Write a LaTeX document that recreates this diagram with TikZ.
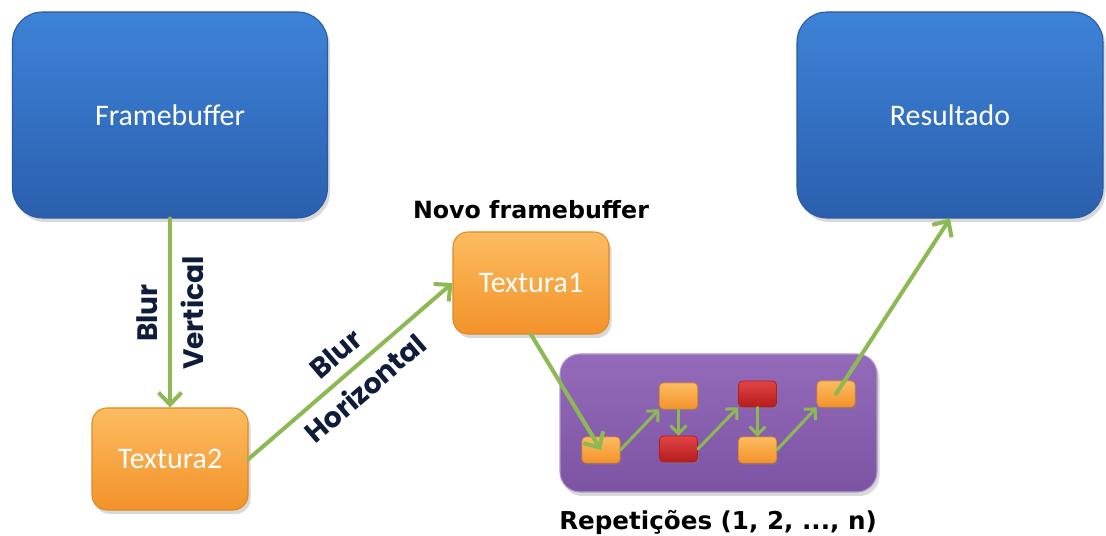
\documentclass[tikz,border=0pt]{standalone}
\usepackage{fontspec}
\setmainfont{Carlito}
\newfontfamily\blurfont{Poppins}
\newfontfamily\captfont{DejaVu Sans}
\usetikzlibrary{arrows.meta, positioning, shadows}
\definecolor{kbluetop}{HTML}{3D83D8}
\definecolor{kbluebot}{HTML}{2B5FAE}
\definecolor{kblueedge}{HTML}{2A5AA3}
\definecolor{korangetop}{HTML}{FCBC60}
\definecolor{korangebot}{HTML}{F3922A}
\definecolor{korangeedge}{HTML}{E08A22}
\definecolor{kredtop}{HTML}{E24444}
\definecolor{kredbot}{HTML}{B51D1D}
\definecolor{kpurpletop}{HTML}{946BBB}
\definecolor{kpurplebot}{HTML}{7D54A4}
\definecolor{kgreen}{HTML}{8DB955}
\definecolor{knavy}{HTML}{101C3C}

\begin{document}
\begin{tikzpicture}[x=1cm, y=1cm,
  bigbox/.style={rounded corners=0.6cm, minimum width=6.2cm, minimum height=4.12cm,
    top color=kbluetop, bottom color=kbluebot, draw=kblueedge, line width=0.6pt,
    text=white, font=\fontsize{17}{20}\selectfont,
    drop shadow={opacity=0.3, shadow xshift=0.05, shadow yshift=-0.08}},
  texbox/.style={rounded corners=0.3cm, minimum width=3.12cm, minimum height=2.04cm,
    top color=korangetop, bottom color=korangebot, draw=korangeedge, line width=0.6pt,
    text=white, font=\fontsize{17}{20}\selectfont,
    drop shadow={opacity=0.3, shadow xshift=0.05, shadow yshift=-0.08}},
  repbox/.style={rounded corners=0.4cm, minimum width=6.34cm, minimum height=2.76cm,
    top color=kpurpletop, bottom color=kpurplebot, draw=kpurpletop!70!white, line width=0.6pt,
    drop shadow={opacity=0.3, shadow xshift=0.05, shadow yshift=-0.08}},
  minibox/.style={rounded corners=0.08cm, minimum width=0.76cm, minimum height=0.52cm,
    top color=korangetop, bottom color=korangebot, draw=korangeedge, line width=0.4pt,
    drop shadow={opacity=0.35, shadow xshift=0.03, shadow yshift=-0.04}},
  minired/.style={minibox, top color=kredtop, bottom color=kredbot, draw=kredbot},
  flow/.style={draw=kgreen, line width=2.3pt, line cap=round,
    -{Straight Barb[length=0.24cm, width=0.46cm, line width=2.3pt]}},
  miniflow/.style={draw=kgreen, line width=1.7pt, line cap=round,
    -{Straight Barb[length=0.16cm, width=0.32cm, line width=1.7pt]}},
  blurlabel/.style={font=\blurfont\bfseries\fontsize{16}{18}\selectfont, text=knavy, align=center},
  caption/.style={font=\captfont\bfseries\fontsize{13.5}{16}\selectfont, text=black}
]

  \useasboundingbox (0,0) rectangle (22.12,10.72);

  %% Big framebuffers
  \node[bigbox, minimum width=6.3cm] (fb) at (3.40,8.42) {Framebuffer};
  \node[bigbox, minimum width=6.12cm] (res) at (19.00,8.42) {Resultado};

  %% Textures
  \node[texbox] (tex1) at (10.62,5.06) {Textura1};
  \node[texbox] (tex2) at (3.40,1.54) {Textura2};
  \node[caption, above=0.12cm of tex1] (novo) {Novo framebuffer};

  %% Repetitions
  \node[repbox] (rep) at (14.37,2.26) {};
  \node[caption, font=\captfont\bfseries\fontsize{14}{16}\selectfont] (repcap) at (14.36,0.28)
    {Repetições (1, 2, ..., n)};
  \node[minibox] (ra) at (12.02,1.72) {};
  \node[minibox] (rb) at (13.57,2.80) {};
  \node[minired] (rc) at (13.57,1.74) {};
  \node[minired] (rd) at (15.15,2.84) {};
  \node[minibox] (re) at (15.15,1.72) {};
  \node[minibox] (rf) at (16.72,2.84) {};

  %% Connectors
  \draw[flow] (fb.south) -- (tex2.north)
    node[blurlabel, midway, rotate=90] {Blur\\[8pt]Vertical};
  \draw[flow] (tex2.east) -- (tex1.west)
    node[blurlabel, midway, sloped] {Blur\\[8pt]Horizontal};
  \draw[flow] (tex1.south) -- (ra.center);
  \draw[miniflow] (ra.east) -- (rb.south west);
  \draw[miniflow] (rb.south) -- (rc.north);
  \draw[miniflow] (rc.east) -- (rd.south west);
  \draw[miniflow] (rd.south) -- (re.north);
  \draw[miniflow] (re.east) -- (rf.south west);
  \draw[flow] (rf.center) -- (res.south);

\end{tikzpicture}
\end{document}
